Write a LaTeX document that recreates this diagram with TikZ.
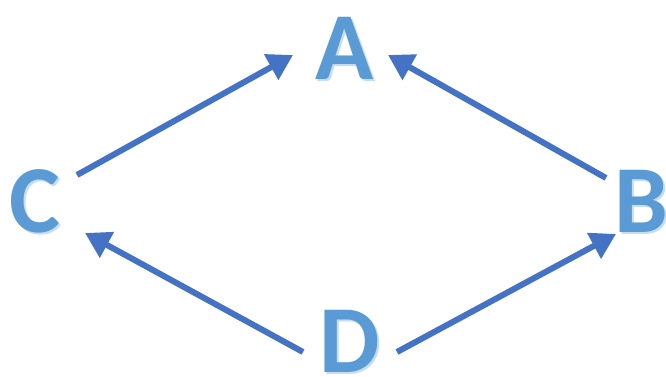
\documentclass[tikz,border=0pt]{standalone}
\usepackage{fontspec}
\setmainfont{Carlito}
\usetikzlibrary{arrows.meta}
\definecolor{letterblue}{HTML}{5B9BD5}
\definecolor{glowblue}{HTML}{C9DDF0}
\definecolor{arrowblue}{HTML}{4472C4}
\tikzset{
  letter/.style={font=\fontsize{96}{96}\selectfont\bfseries, text=letterblue,
    inner sep=0pt, anchor=base},
  glow/.style={letter, text=glowblue},
  link/.style={-{Triangle[length=25pt,width=28pt]}, line width=6pt, draw=arrowblue},
}
\begin{document}
\begin{tikzpicture}[x=1pt, y=-1pt]
  \useasboundingbox (0,0) rectangle (666,377);

  % soft outline behind the letters
  \node[glow] (a-glow) at (347,82) {A};
  \node[glow] (c-glow) at (37,234) {C};
  \node[glow] (b-glow) at (643,234) {B};
  \node[glow] (d-glow) at (352,374) {D};

  % letters
  \node[letter] (a) at (345,80) {A};
  \node[letter] (c) at (35,232) {C};
  \node[letter] (b) at (641,232) {B};
  \node[letter] (d) at (350,372) {D};

  % arrow ends
  \coordinate (ca-from) at (77,175);
  \coordinate (ca-to) at (293,55);
  \coordinate (ba-from) at (606,178);
  \coordinate (ba-to) at (388,55);
  \coordinate (dc-from) at (303,352);
  \coordinate (dc-to) at (85,233);
  \coordinate (db-from) at (397,352);
  \coordinate (db-to) at (616,234);

  \draw[link] (ca-from) -- (ca-to);
  \draw[link] (ba-from) -- (ba-to);
  \draw[link] (dc-from) -- (dc-to);
  \draw[link] (db-from) -- (db-to);
\end{tikzpicture}
\end{document}
